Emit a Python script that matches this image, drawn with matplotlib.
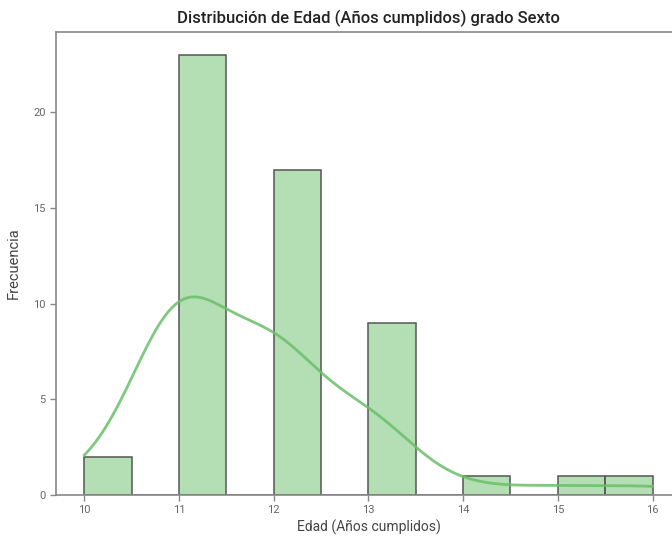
import matplotlib
matplotlib.use('Agg')
import matplotlib.pyplot as plt
import numpy as np
import seaborn as sns

# Ages (años cumplidos) and how many students have each one
edades = [10, 11, 12, 13, 14, 15, 16]
conteos = [2, 23, 17, 9, 1, 1, 1]

titulo = 'Distribución de Edad (Años cumplidos) grado Sexto'
etiqueta_x = 'Edad (Años cumplidos)'
etiqueta_y = 'Frecuencia'

datos = np.repeat(edades, conteos)

plt.rcParams['font.family'] = ['Roboto', 'DejaVu Sans']

fig = plt.figure(figsize=(6.72, 5.38), dpi=100)
ax = fig.add_axes([0.0833, 0.0799, 0.93, 0.8606])

sns.histplot(x=datos, binwidth=0.5, binrange=(10, 16), kde=True, ax=ax,
             color='#6abf69', alpha=0.5, edgecolor='#555555', linewidth=1.1,
             line_kws={'linewidth': 2, 'alpha': 0.85})

ax.set_xlim(9.7, 16.3)
ax.set_ylim(0, 24.2)
ax.set_xticks(edades)
ax.set_yticks([0, 5, 10, 15, 20])

for lado in ['left', 'bottom', 'top', 'right']:
    ax.spines[lado].set_color('#888888')
    ax.spines[lado].set_linewidth(1.2)
ax.tick_params(axis='both', colors='#888888', labelcolor='#666666', labelsize=8,
               length=4, width=1)

ax.set_title(titulo, fontsize=12, color='#222222', fontweight='medium', pad=6)
ax.set_xlabel(etiqueta_x, fontsize=10, color='#444444', labelpad=3)
ax.set_ylabel(etiqueta_y, fontsize=10.5, color='#444444', labelpad=9)

fig.savefig('out.png', dpi=100)
